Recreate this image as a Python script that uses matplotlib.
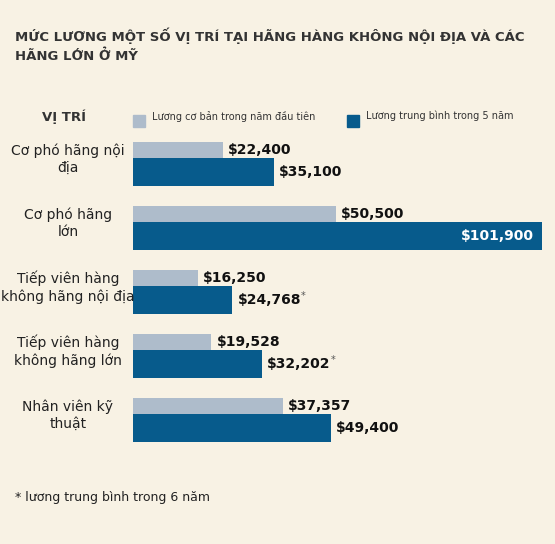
import matplotlib.pyplot as plt

positions = ["Cơ phó hãng nội\nđịa", "Cơ phó hãng\nlớn", "Tiếp viên hàng\nkhông hãng nội địa",
             "Tiếp viên hàng\nkhông hãng lớn", "Nhân viên kỹ\nthuật"]
base_first_year = [22400, 50500, 16250, 19528, 37357]
avg_5_years = [35100, 101900, 24768, 32202, 49400]
six_year_avg = [False, False, True, True, False]

bg = "#f8f2e4"
light = "#aebccb"
dark = "#075b8c"
W, H = 555, 544

fig = plt.figure(figsize=(W / 100, H / 100), dpi=100, facecolor=bg)
ax = fig.add_axes([0, 0, 1, 1])
ax.set_facecolor(bg)
s = 101900 / 409
ax.set_xlim(-133 * s, (W - 133) * s)
ax.set_ylim((H - 172) / 64, -172 / 64)
ax.axis("off")

ys = list(range(len(positions)))
ax.barh([y - 0.35 for y in ys], base_first_year, height=0.25, color=light)
ax.barh(ys, avg_5_years, height=0.45, color=dark)

mx = max(avg_5_years)
for y, name, b, a, star in zip(ys, positions, base_first_year, avg_5_years, six_year_avg):
    ax.text(-65 * s, y - 0.2, name, ha="center", va="center", fontsize=10, color="#222222",
            linespacing=1.3)
    ax.text(b + 5 * s, y - 0.35, f"${b:,}", ha="left", va="center", fontsize=10,
            fontweight="bold", color="#111111")
    if a == mx:
        ax.text(a - 8 * s, y, f"${a:,}", ha="right", va="center", fontsize=10,
                fontweight="bold", color="white")
    else:
        t = ax.text(a + 5 * s, y, f"${a:,}", ha="left", va="center", fontsize=10,
                    fontweight="bold", color="#111111")
        if star:
            ax.annotate("*", xy=(1, 0.75), xycoords=t, fontsize=7, color="#555555",
                        ha="left", va="center")

fig.text(15 / W, 1 - 45 / H, "MỨC LƯƠNG MỘT SỐ VỊ TRÍ TẠI HÃNG HÀNG KHÔNG NỘI ĐỊA VÀ CÁC\nHÃNG LỚN Ở MỸ",
         ha="left", va="center", fontsize=9.5, fontweight="bold", color="#333333", linespacing=1.5)
fig.text(42 / W, 1 - 117 / H, "VỊ TRÍ", ha="left", va="center", fontsize=9.5,
         fontweight="bold", color="#333333")
fig.patches.append(plt.Rectangle((133 / W, 1 - 127 / H), 12 / W, 12 / H, color=light,
                                 transform=fig.transFigure))
fig.text(152 / W, 1 - 116 / H, "Lương cơ bản trong năm đầu tiên", ha="left", va="center",
         fontsize=7, color="#333333")
fig.patches.append(plt.Rectangle((347 / W, 1 - 127 / H), 12 / W, 12 / H, color=dark,
                                 transform=fig.transFigure))
fig.text(366 / W, 1 - 116 / H, "Lương trung bình trong 5 năm", ha="left", va="center",
         fontsize=7, color="#333333")
fig.text(15 / W, 1 - 498 / H, "* lương trung bình trong 6 năm", ha="left", va="center",
         fontsize=9, color="#222222")

fig.savefig("out.png", dpi=100, facecolor=bg)
